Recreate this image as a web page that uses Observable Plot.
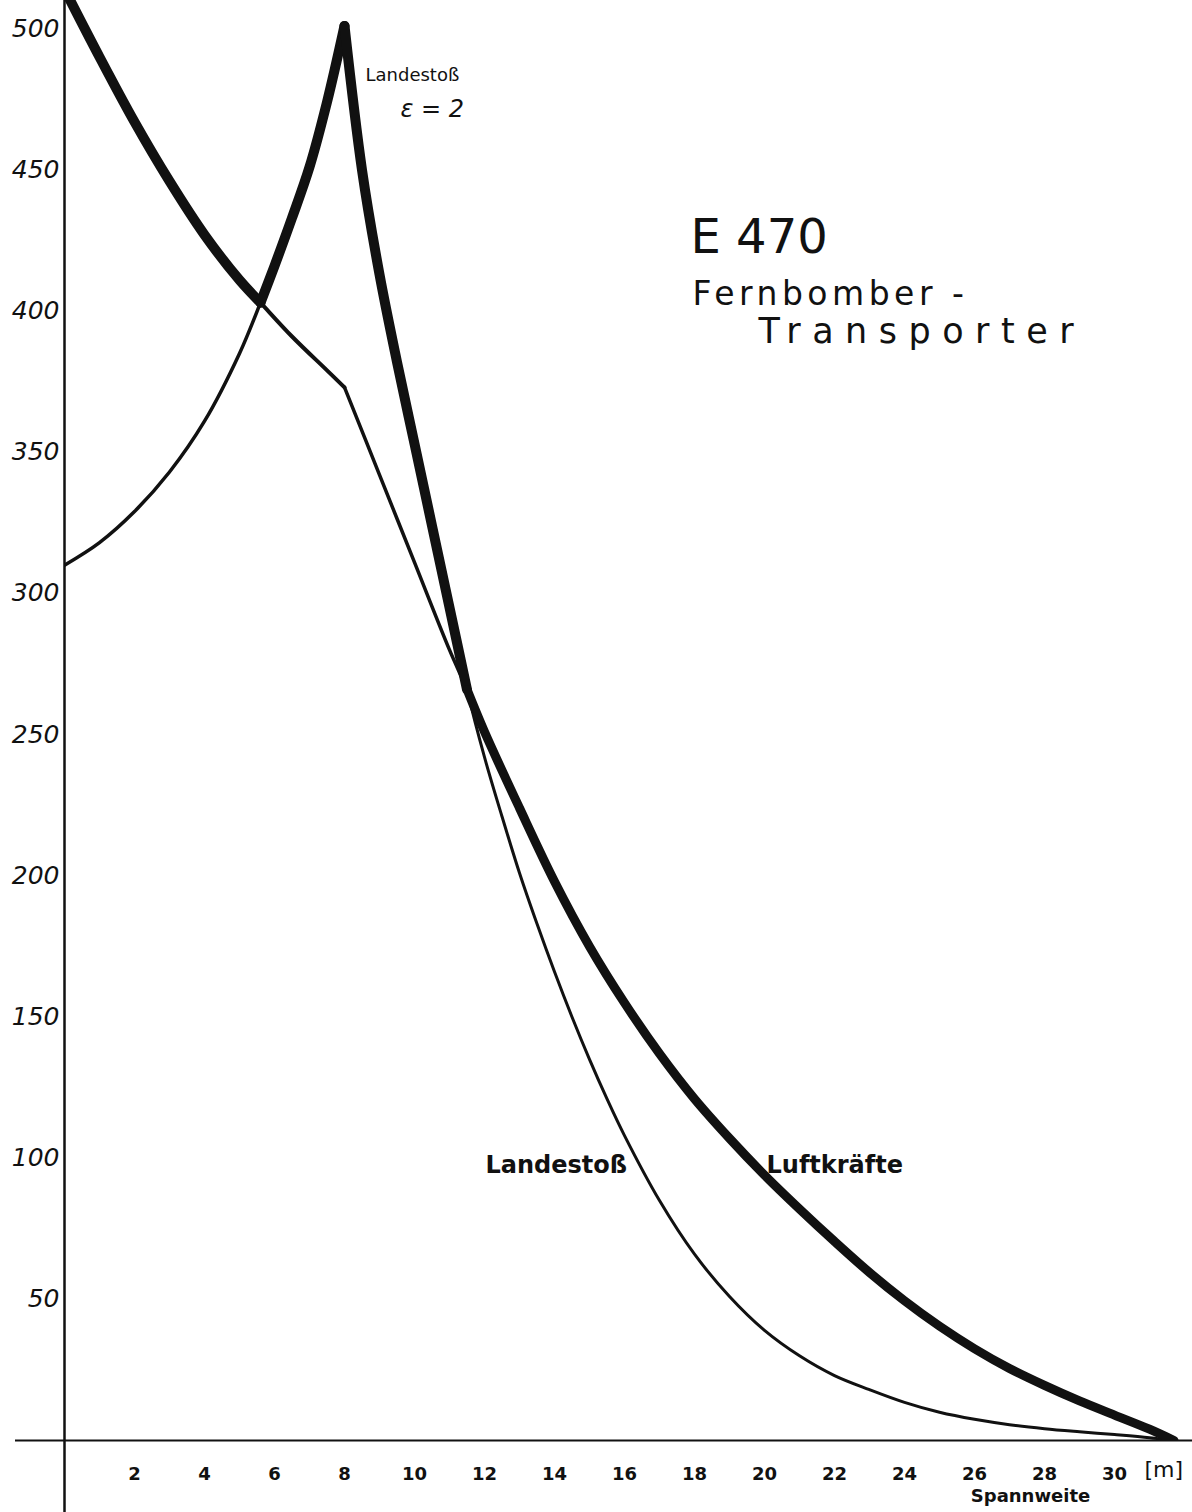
<!DOCTYPE html>
<html>
<head>
<meta charset="utf-8">
<script src="https://cdn.jsdelivr.net/npm/d3@7"></script>
<script src="https://cdn.jsdelivr.net/npm/@observablehq/plot@0.6"></script>
<style>
  html, body { margin: 0; padding: 0; background: #fff; }
  #chart svg { display: block; }
</style>
</head>
<body>
<div id="chart"></div>
<script>
// Spannweite [m] and bending values
const luftX = [0,1,2,3,4,5,5.6,6.5,7.5,8,9,10,11,11.5,12,13,14,15,16,17,18,19,20,21,22,23,24,25,26,27,28,29,30,31,31.7];
const luftY = [514,490,467,446,427,411,403,391,379,373,342,311,280,266,251,224,198,175,155,137,121,107,94,82,70.5,59.5,49.5,40.5,32.5,25.5,19.5,14,9,4,0];

const landX = [0,1,2,3,4,5,5.6,6,6.5,7,7.5,8,8.5,9,9.5,10,10.5,11,11.5,12,12.5,13,13.5,14,14.5,15,15.5,16,17,18,19,20,21,22,23,24,25,26,27,28,29,30,31,31.7];
const landY = [310,318,329,343,361,385,403,416,433,451,474,501,450,413,382,353,324,295,266,242,221,201,183,166,150,135,121,108,85,66,51,39,30,23,18,13.5,10,7.5,5.6,4.2,3.1,2.1,1,0];

// kink / peak position and crossing points of the two curves
const kink = 8;
const crossA = 5.6;
const crossB = 11.5;

const yTicks = [50,100,150,200,250,300,350,400,450,500];
const xTicks = [2,4,6,8,10,12,14,16,18,20,22,24,26,28,30];

const luft = luftX.map((x, i) => ({x, y: luftY[i]}));
const land = landX.map((x, i) => ({x, y: landY[i]}));

const ink = "#111";
const font = "DejaVu Sans";

// one smooth piece of a curve between x = a and x = b
function piece(data, a, b, width) {
  return Plot.line(data, {
    x: "x", y: "y",
    filter: d => d.x >= a && d.x <= b,
    curve: "catmull-rom",
    stroke: ink, strokeWidth: width,
    strokeLinejoin: "round", strokeLinecap: "round",
    clip: true
  });
}

const chart = Plot.plot({
  width: 1192,
  height: 1512,
  marginLeft: 64,
  marginRight: 8,
  marginTop: 0,
  marginBottom: 72,
  x: {domain: [0, 32], axis: null},
  y: {domain: [0, 510], axis: null},
  style: {background: "#fff", color: ink, fontFamily: font},
  marks: [
    // axes lines
    Plot.ruleX([0], {y1: -26, y2: 520, stroke: ink, strokeWidth: 2.5}),
    Plot.ruleY([0], {x1: -1.4, x2: 32.3, stroke: ink, strokeWidth: 2}),
    Plot.axisY({ticks: yTicks, tickSize: 0, tickPadding: 5, fontSize: 25, fontStyle: "italic", label: null, anchor: "left"}),
    Plot.axisX({ticks: xTicks, tickSize: 0, tickPadding: 27, fontSize: 18, fontWeight: "bold", label: null, anchor: "bottom"}),
    Plot.text(["[m]"], {frameAnchor: "bottom-left", dx: 1080, dy: 36, textAnchor: "start", fontSize: 22, fill: ink}),
    Plot.text(["Spannweite"], {frameAnchor: "bottom-left", dx: 966, dy: 61, textAnchor: "middle", fontSize: 18, fontWeight: "bold", fill: ink}),

    // thin curves
    piece(luft, 0, kink, 4),
    piece(luft, kink, 40, 3.5),
    piece(land, 0, kink, 3.5),
    piece(land, kink, 40, 3),

    // thick envelope
    piece(luft, 0, crossA, 10),
    piece(land, crossA, kink, 10),
    piece(land, kink, crossB, 10),
    piece(luft, crossB, 40, 9),

    // annotations
    Plot.text(["Landestoß"], {frameAnchor: "top-left", dx: 301, dy: 68, textAnchor: "start", fontSize: 18, fill: ink}),
    Plot.text(["ε = 2"], {frameAnchor: "top-left", dx: 336, dy: 99, textAnchor: "start", fontSize: 24, fontStyle: "italic", fill: ink}),
    Plot.text(["Landestoß"], {frameAnchor: "top-left", dx: 421, dy: 1155, textAnchor: "start", fontSize: 24, fontWeight: "bold", fill: ink}),
    Plot.text(["Luftkräfte"], {frameAnchor: "top-left", dx: 702, dy: 1155, textAnchor: "start", fontSize: 24, fontWeight: "bold", fill: ink}),

    // title block
    Plot.text(["E 470"], {frameAnchor: "top-left", dx: 626, dy: 218, textAnchor: "start", fontSize: 48, fill: ink}),
    Plot.text(["Fernbomber -"], {frameAnchor: "top-left", dx: 628, dy: 281, textAnchor: "start", fontSize: 33, fill: ink}),
    Plot.text(["Transporter"], {frameAnchor: "top-left", dx: 694, dy: 318, textAnchor: "start", fontSize: 35, fill: ink})
  ]
});

// wide hand lettering of the title block
const spacing = {"Fernbomber -": "4.5px", "Transporter": "11.5px"};
d3.select(chart).selectAll("text").each(function () {
  const s = spacing[this.textContent];
  if (s) d3.select(this).style("letter-spacing", s);
});

document.getElementById("chart").appendChild(chart);
</script>
</body>
</html>
